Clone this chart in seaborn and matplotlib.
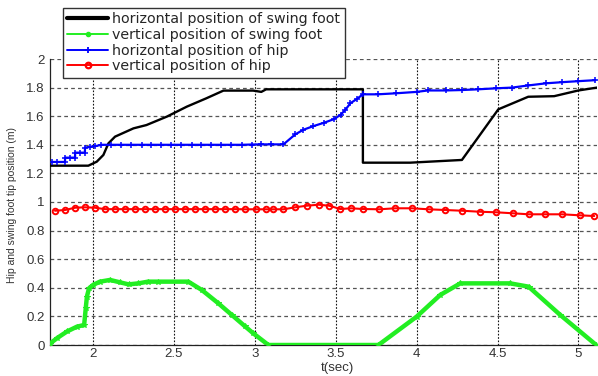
import matplotlib
matplotlib.use("Agg")
import matplotlib.pyplot as plt
from matplotlib.lines import Line2D
import seaborn as sns
import pandas as pd

# horizontal position of swing foot
swing_x_t = [1.734, 1.971, 2.023, 2.064, 2.095, 2.136, 2.25, 2.33, 2.456, 2.58, 2.70,
             2.806, 2.99, 3.04, 3.07, 3.668, 3.668, 3.96, 4.28, 4.505, 4.69, 4.85, 5.0, 5.115]
swing_x = [1.254, 1.254, 1.282, 1.329, 1.41, 1.457, 1.515, 1.538, 1.597, 1.667, 1.725,
           1.779, 1.779, 1.77, 1.788, 1.788, 1.275, 1.275, 1.294, 1.648, 1.736, 1.74, 1.78, 1.80]

# vertical position of swing foot
swing_z_t = [1.734, 1.78, 1.84, 1.90, 1.945, 1.955, 1.962, 1.975, 2.0, 2.043, 2.105, 2.167,
             2.22, 2.28, 2.34, 2.40, 2.589, 2.672, 2.775, 2.858, 2.94, 2.99, 3.084, 3.764,
             4.0, 4.146, 4.27, 4.579, 4.692, 4.888, 5.11]
swing_z = [0.01, 0.05, 0.095, 0.128, 0.14, 0.257, 0.338, 0.396, 0.42, 0.443, 0.455, 0.438,
           0.424, 0.431, 0.443, 0.443, 0.443, 0.385, 0.291, 0.21, 0.13, 0.082, 0.0, 0.0,
           0.198, 0.35, 0.431, 0.431, 0.408, 0.21, 0.0]

# horizontal position of hip
hip_x_t = [1.745, 1.78, 1.827, 1.827, 1.86, 1.889, 1.889, 1.92, 1.95, 1.95, 1.98, 2.012,
           2.05, 2.11, 2.17, 2.235, 2.30, 2.36, 2.42, 2.48, 2.545, 2.61, 2.67, 2.73, 2.79,
           2.855, 2.92, 2.98, 3.04, 3.10, 3.177, 3.25, 3.30, 3.36, 3.43, 3.49, 3.53, 3.56,
           3.59, 3.63, 3.668, 3.76, 3.87, 4.0, 4.07, 4.18, 4.28, 4.38, 4.49, 4.59, 4.69,
           4.80, 4.90, 5.0, 5.105]
hip_x = [1.28, 1.28, 1.28, 1.31, 1.31, 1.31, 1.345, 1.345, 1.345, 1.38, 1.385, 1.39,
         1.40, 1.40, 1.40, 1.40, 1.40, 1.40, 1.40, 1.40, 1.40, 1.40, 1.40, 1.40, 1.40,
         1.40, 1.40, 1.402, 1.403, 1.403, 1.403, 1.473, 1.505, 1.53, 1.555, 1.58, 1.61, 1.645,
         1.69, 1.72, 1.753, 1.753, 1.76, 1.77, 1.78, 1.78, 1.783, 1.788, 1.795, 1.80, 1.815,
         1.83, 1.838, 1.845, 1.852]

# vertical position of hip
hip_z_t = [1.765, 1.827, 1.889, 1.95, 2.012, 2.074, 2.136, 2.198, 2.26, 2.322, 2.384,
           2.446, 2.508, 2.57, 2.632, 2.694, 2.756, 2.818, 2.88, 2.94, 3.008, 3.07, 3.115,
           3.177, 3.25, 3.32, 3.394, 3.46, 3.528, 3.596, 3.668, 3.77, 3.868, 3.97, 4.074,
           4.177, 4.28, 4.389, 4.492, 4.596, 4.692, 4.795, 4.898, 5.007, 5.098]
hip_z = [0.939, 0.944, 0.960, 0.963, 0.960, 0.950, 0.950, 0.950, 0.950, 0.950, 0.950,
         0.950, 0.950, 0.950, 0.950, 0.950, 0.950, 0.950, 0.950, 0.949, 0.949, 0.949, 0.949,
         0.949, 0.963, 0.974, 0.981, 0.974, 0.951, 0.956, 0.951, 0.949, 0.956, 0.956, 0.949,
         0.944, 0.939, 0.932, 0.928, 0.921, 0.914, 0.914, 0.914, 0.907, 0.902]

x_ticks = [2, 2.5, 3, 3.5, 4, 4.5, 5]
x_tick_labels = ["2", "2.5", "3", "3.5", "4", "4.5", "5"]
y_ticks = [0, 0.2, 0.4, 0.6, 0.8, 1, 1.2, 1.4, 1.6, 1.8, 2]
y_tick_labels = ["0", "0.2", "0.4", "0.6", "0.8", "1", "1.2", "1.4", "1.6", "1.8", "2"]

labels = ["horizontal position of swing foot", "vertical position of swing foot",
          "horizontal position of hip", "vertical position of hip"]

sns.set_style("white")
plt.rcParams["font.family"] = ["Liberation Sans", "DejaVu Sans"]

fig = plt.figure(figsize=(5.98, 3.76), dpi=100)
ax = fig.add_axes([50 / 598, 1 - 345 / 376, 547 / 598, 286 / 376])

GREEN = "#22ee22"
BLUE = "#0000ff"
RED = "#ff0000"

df_sx = pd.DataFrame({"t": swing_x_t, "v": swing_x})
df_sz = pd.DataFrame({"t": swing_z_t, "v": swing_z})
df_hx = pd.DataFrame({"t": hip_x_t, "v": hip_x})
df_hz = pd.DataFrame({"t": hip_z_t, "v": hip_z})

sns.lineplot(data=df_sz, x="t", y="v", ax=ax, estimator=None, sort=False,
             color=GREEN, linewidth=3.2, marker="*", markersize=4,
             markeredgecolor=GREEN, zorder=3)
sns.lineplot(data=df_hz, x="t", y="v", ax=ax, estimator=None, sort=False,
             color=RED, linewidth=1.5, marker="o", markersize=4,
             markerfacecolor="none", markeredgecolor=RED, markeredgewidth=1.4, zorder=4)
sns.lineplot(data=df_sx, x="t", y="v", ax=ax, estimator=None, sort=False,
             color="black", linewidth=1.7, zorder=4)
sns.lineplot(data=df_hx, x="t", y="v", ax=ax, estimator=None, sort=False,
             color=BLUE, linewidth=1.6, marker="+", markersize=4,
             markeredgecolor=BLUE, markeredgewidth=1.1, zorder=5)

ax.set_xlim(1.734, 5.115)
ax.set_ylim(0, 2)
ax.set_xticks(x_ticks)
ax.set_xticklabels(x_tick_labels)
ax.set_yticks(y_ticks)
ax.set_yticklabels(y_tick_labels)
ax.tick_params(axis="both", direction="in", length=5, width=0.8, colors="#222222",
               labelsize=9.5, labelcolor="#333333")
ax.tick_params(axis="y", pad=4)
ax.tick_params(axis="x", pad=2.5)

ax.xaxis.grid(True, linestyle=(0, (1.5, 1.5)), color="#111111", linewidth=0.8)
ax.yaxis.grid(True, linestyle=(0, (3, 2.5)), color="#555555", linewidth=0.9)
ax.set_axisbelow(True)

for side in ["top", "right"]:
    ax.spines[side].set_visible(False)
for side in ["left", "bottom"]:
    ax.spines[side].set_color("#222222")
    ax.spines[side].set_linewidth(0.9)

ax.set_xlabel("t(sec)", fontsize=9.5, color="#333333")
ax.set_ylabel("Hip and swing foot tip position (m)", fontsize=7.5, color="#333333")
ax.xaxis.set_label_coords(0.525, -0.058)
ax.yaxis.set_label_coords(-0.06, 0.49)

handles = [
    Line2D([], [], color="black", linewidth=3),
    Line2D([], [], color=GREEN, linewidth=1.4, marker=".", markersize=6),
    Line2D([], [], color=BLUE, linewidth=1.4, marker="+", markersize=4, markeredgewidth=1.3),
    Line2D([], [], color=RED, linewidth=1.4, marker="o", markersize=4,
           markerfacecolor="none", markeredgewidth=1.6),
]
leg = fig.legend(handles, labels, loc="upper left", bbox_to_anchor=(63 / 598, 1 - 8 / 376),
                 prop={"family": "DejaVu Sans", "size": 10.3},
                 frameon=True, fancybox=False, framealpha=1,
                 edgecolor="#333333", borderpad=0.3, labelspacing=0.12,
                 handlelength=2.85, handletextpad=0.3, borderaxespad=0)
leg.get_frame().set_linewidth(1.0)
leg.set_zorder(10)

fig.savefig("out.png", dpi=100)
